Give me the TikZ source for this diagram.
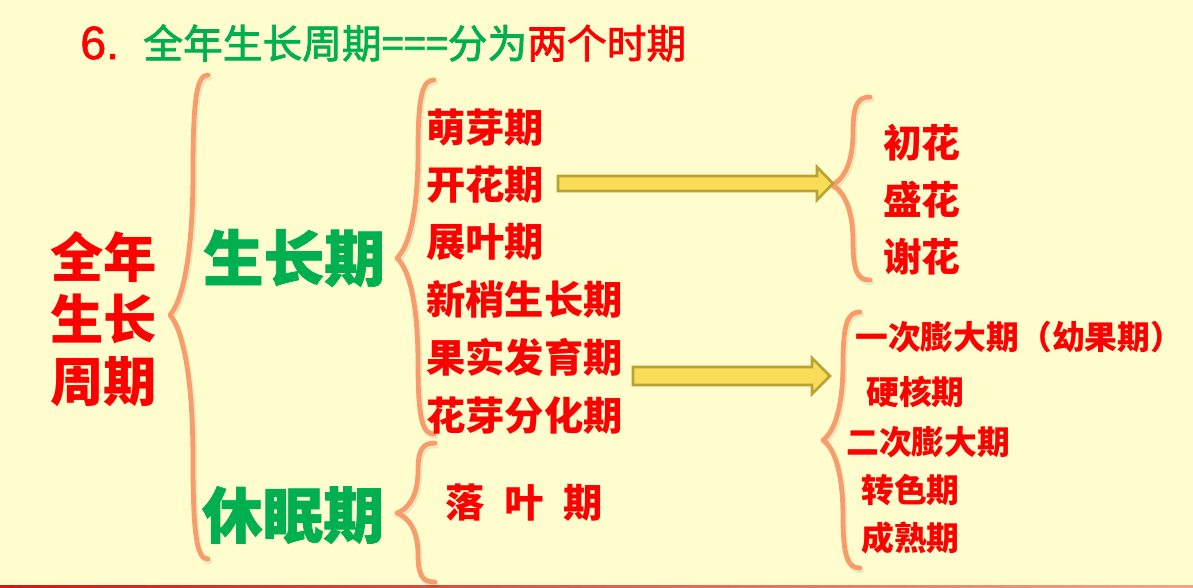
\documentclass[tikz,border=0pt]{standalone}
\usepackage{fontspec}
\newfontfamily\cjk{Noto Sans CJK SC}
\newfontfamily\cjkmed[FakeBold=2]{Noto Sans CJK SC}
\newfontfamily\cjkheavy[BoldFeatures={FakeBold=1.2}]{Noto Sans CJK SC}
\newfontfamily\arialf[FakeBold=1.2]{Liberation Sans}
\usetikzlibrary{calc}
\definecolor{bg}{RGB}{255,253,206}
\definecolor{tred}{RGB}{255,0,0}
\definecolor{tgreen}{RGB}{0,176,80}
\definecolor{brc}{RGB}{249,156,108}
\definecolor{arfill}{RGB}{249,221,88}
\definecolor{ardraw}{RGB}{184,164,54}
\definecolor{lineL}{RGB}{200,30,20}
\definecolor{lineR}{RGB}{240,165,135}
% brace: #1 end x, #2 top y, #3 vertical x, #4 tip x, #5 tip y, #6 bottom y
\newcommand{\mybracepath}[6]{%
  (#1,#2) .. controls ({#3+0.3*(#1-#3)},#2) and (#3,{#2+0.08*(#5-#2)}) .. (#3,{#2+0.4*(#5-#2)})
  .. controls (#3,{#5-0.25*(#5-#2)}) and ({#3-0.45*(#3-#4)},{#5-0.06*(#5-#2)}) .. (#4,#5)
  .. controls ({#3-0.45*(#3-#4)},{#5+0.06*(#6-#5)}) and (#3,{#5+0.25*(#6-#5)}) .. (#3,{#6-0.4*(#6-#5)})
  .. controls (#3,{#6-0.08*(#6-#5)}) and ({#3+0.3*(#1-#3)},#6) .. (#1,#6)}
\newcommand{\mybrace}[6]{%
  \draw[braceshadow] [shift={(1.5,2.5)}] \mybracepath{#1}{#2}{#3}{#4}{#5}{#6};
  \draw[bracestyle] \mybracepath{#1}{#2}{#3}{#4}{#5}{#6};}
\begin{document}
\begin{tikzpicture}[x=0.75pt,y=-0.75pt,
  bracestyle/.style={draw=brc,line width=3.6pt,line cap=round,line join=round},
  braceshadow/.style={draw=black,opacity=0.08,line width=4pt,line cap=round},
  blockarrow/.style={fill=arfill,draw=ardraw,line width=2pt,line join=miter},
  listA/.style={anchor=west,inner sep=0,text=tred,font=\cjk\bfseries\fontsize{29.5pt}{32pt}\selectfont},
  listB/.style={anchor=west,inner sep=0,text=tred,font=\cjk\bfseries\fontsize{29pt}{32pt}\selectfont},
  listC/.style={anchor=west,inner sep=0,text=tred,font=\cjk\bfseries\fontsize{24.6pt}{28pt}\selectfont},
  bigG/.style={inner sep=0,text=tgreen,font=\cjkheavy\bfseries\fontsize{45.5pt}{50pt}\selectfont}]
\fill[bg] (0,0) rectangle (1193,588);
\useasboundingbox (0,0) rectangle (1193,588);
\shade[left color=lineL,right color=lineR] (0,585.5) rectangle (1193,588);

% title
\node[anchor=west,inner sep=0,text=tred,font=\arialf\fontsize{35pt}{38pt}\selectfont] (t6) at (80,43) {6.};
\node[anchor=west,inner sep=0,font=\cjkmed\fontsize{29.8pt}{32pt}\selectfont] (title) at (143,43)
  {\textcolor{tgreen}{全年生长周期===分为}\textcolor{tred}{两个时期}};

% left block
\node[align=center,inner sep=0,text=tred,font=\cjk\bfseries\fontsize{40pt}{46.5pt}\selectfont] (whole) at (103.5,319) {全年\\生长\\周期};
\node[bigG] (grow) at (294,258) {生长期};
\node[bigG] (dorm) at (293,515) {休眠期};

% braces
\mybrace{208}{75}{193}{170}{315}{559}
\mybrace{434}{80}{418}{397}{258}{434}
\mybrace{435}{443}{418}{397}{513}{582}
\mybrace{870}{97}{853}{832}{185}{280}
\mybrace{860}{312}{843}{823}{440}{568}

% list of growth stages
\node[listA] (s1) at (426,128) {萌芽期};
\node[listA] (s2) at (426,185) {开花期};
\node[listA] (s3) at (426,242) {展叶期};
\node[listA] (s4) at (426,299) {新梢生长期};
\node[listA] (s5) at (426,357) {果实发育期};
\node[listA] (s6) at (426,415) {花芽分化期};
\node[listA] (d1) at (445,503) {落\hspace{0.5em}叶\hspace{0.5em}期};

% flowering
\node[listB] (f1) at (883,143) {初花};
\node[listB] (f2) at (883,200) {盛花};
\node[listB] (f3) at (883,257) {谢花};

% fruit
\node[listC] (r1) at (855,337) {一次膨大期（幼果期）};
\node[listC] (r2) at (866,392) {硬核期};
\node[listC] (r3) at (846,442) {二次膨大期};
\node[listC] (r4) at (861,490) {转色期};
\node[listC] (r5) at (861,538) {成熟期};

% block arrows
\draw[blockarrow] (558,176) -- (817,176) -- (817,167) -- (833,183.5) -- (817,200) -- (817,191) -- (558,191) -- cycle;
\draw[blockarrow] (633,367) -- (812,367) -- (812,358) -- (830,376) -- (812,394) -- (812,385) -- (633,385) -- cycle;
\end{tikzpicture}
\end{document}
